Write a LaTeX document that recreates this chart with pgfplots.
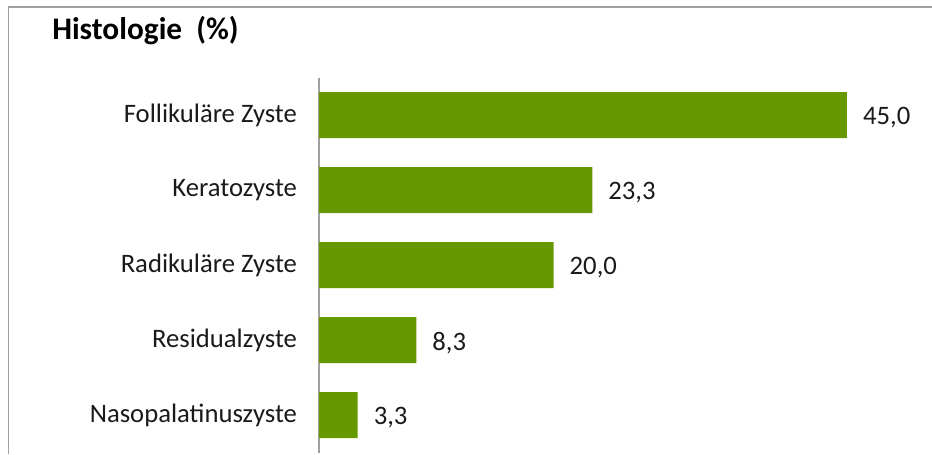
\documentclass[border=0pt]{standalone}
\usepackage{pgfplots}
\pgfplotsset{compat=1.18}
\usepackage{fontspec}
\setmainfont{Carlito}
\definecolor{bargreen}{HTML}{669900}
\definecolor{framegray}{HTML}{A0A0A0}
\definecolor{txt}{HTML}{1A1A1A}
\begin{document}
\begin{tikzpicture}
\path[use as bounding box] (0pt,0pt) rectangle (699pt,340.5pt);
\draw[framegray, line width=1pt] (6.375pt,0pt) -- (6.375pt,335.25pt) -- (699pt,335.25pt);
\node[anchor=base west, inner sep=0pt, font=\fontsize{23.5}{27}\selectfont\bfseries] at (39pt,311pt) {Histologie\ \ (\%)};
\begin{axis}[
  at={(239.25pt,1.125pt)}, anchor=south west,
  scale only axis,
  width=440pt, height=281.25pt,
  xbar, bar width=34.5pt,
  xmin=0, xmax=50,
  ymin=-0.5, ymax=4.5, y dir=reverse,
  axis x line=none,
  axis y line*=left,
  y axis line style={draw=framegray, line width=1pt, -},
  ytick={0,1,2,3,4},
  yticklabels={Follikuläre Zyste, Keratozyste, Radikuläre Zyste, Residualzyste, Nasopalatinuszyste},
  yticklabel style={font=\fontsize{20}{24}\selectfont, text=txt, xshift=-13pt},
  major tick length=0pt,
  nodes near coords,
  nodes near coords style={font=\fontsize{20}{24}\selectfont, text=txt, xshift=8.5pt, yshift=-2pt, /pgf/number format/.cd, fixed, fixed zerofill, precision=1, use comma, assume math mode=true},
  clip=false,
]
\addplot[fill=bargreen, draw=none] coordinates {(45.0,0) (23.3,1) (20.0,2) (8.3,3) (3.3,4)};
\end{axis}
\end{tikzpicture}
\end{document}
